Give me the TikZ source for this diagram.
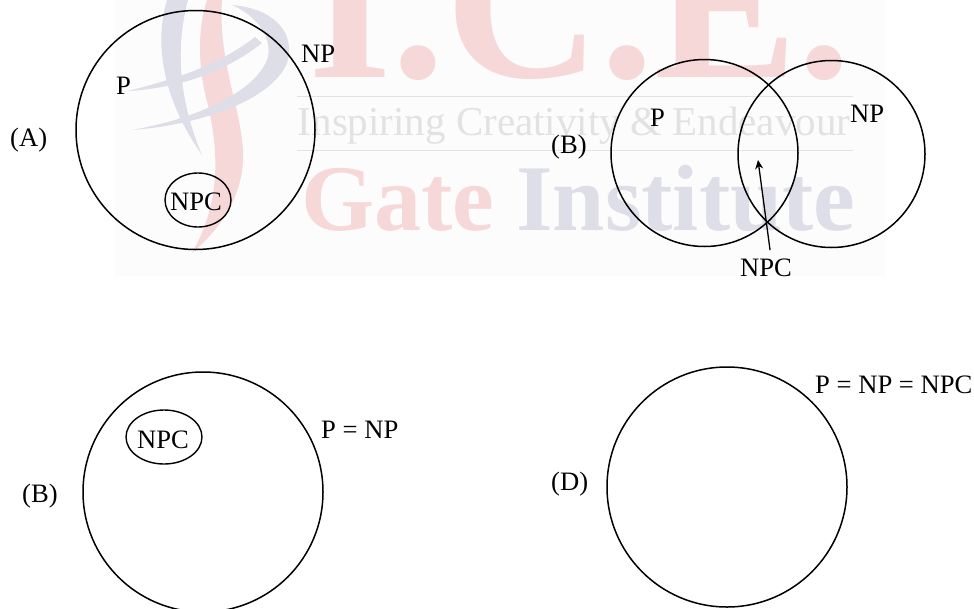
\documentclass[tikz,border=0pt]{standalone}
\usepackage{fontspec}
\setmainfont{Liberation Serif}
\usetikzlibrary{arrows.meta,shapes.geometric}
\definecolor{wred}{RGB}{247,216,216}
\definecolor{wblue}{RGB}{221,222,232}
\definecolor{wgrey}{RGB}{226,226,226}
\definecolor{wback}{RGB}{252,252,252}
\tikzset{
  ring/.style={draw=black,line width=1.5pt,circle,minimum size=#1,inner sep=0pt},
  oval/.style={draw=black,line width=1.4pt,ellipse,inner sep=0pt},
  lab/.style={font=\fontsize{26.6}{26.6}\selectfont,inner sep=0pt,text=black,anchor=base west},
  wm/.style={inner sep=0pt,anchor=base},
}
\begin{document}
\begin{tikzpicture}[x=1pt,y=-1pt]
\useasboundingbox (0,0) rectangle (974,608);
\fill[white] (0,0) rectangle (974,608);
\fill[wback] (115,0) rectangle (885,276);
% watermark
\begin{scope}
\clip (115,0) rectangle (885,276);
\node[wm,text=wred,font=\bfseries\fontsize{215}{215}\selectfont] (wice) at (580,77) {I.C.E.};
\node[wm,text=wgrey,font=\fontsize{41}{41}\selectfont] (wins) at (574,135) {Inspiring Creativity \& Endeavour};
\node[wm,text=wred,font=\bfseries\fontsize{94}{94}\selectfont] (wgate) at (398,230) {Gate};
\node[wm,text=wblue,font=\bfseries\fontsize{94}{94}\selectfont] (winst) at (686,230) {Institute};
\draw[wgrey,line width=1pt] (297,96) -- (853,96) (297,150) -- (853,150);
\fill[wred] (207,0) .. controls (197,30) and (198,70) .. (208,105) .. controls (218,150) and (222,200) .. (192,253) .. controls (225,225) and (245,190) .. (243,150) .. controls (240,105) and (218,60) .. (222,0) -- cycle;
\fill[wblue] (167,0) .. controls (155,40) and (160,95) .. (202,155) .. controls (185,115) and (172,60) .. (188,0) -- cycle;
\fill[wblue] (232,5) .. controls (270,8) and (297,30) .. (287,63) .. controls (272,100) and (200,125) .. (132,130) .. controls (200,118) and (258,90) .. (268,57) .. controls (272,35) and (255,15) .. (232,5) -- cycle;
\fill[wblue] (128,91) .. controls (170,80) and (215,68) .. (255,37) -- (262,43) .. controls (225,72) and (180,88) .. (128,91) -- cycle;
\end{scope}
% (A)
\node[ring=239pt] (ca) at (195.5,130) {};
\node[oval,minimum width=66pt,minimum height=54pt] (npca) at (198,200) {};
\node[lab] (tnpca) at (170,210) {NPC};
\node[lab] (tpa) at (116,94) {P};
\node[lab] (tnpa) at (301,62) {NP};
\node[lab] (ta) at (10,146) {(A)};
% (B) upper
\node[ring=187pt] (cb1) at (704.5,153) {};
\node[ring=187pt] (cb2) at (831.5,154) {};
\node[lab] (tpb) at (650,126) {P};
\node[lab] (tnpb) at (850,122) {NP};
\node[lab] (tb) at (551,153) {(B)};
\node[lab] (tnpcb) at (740,276) {NPC};
\coordinate (arrowtip) at (758,160);
\coordinate (arrowstart) at ([xshift=4pt,yshift=8pt]tnpcb.north);
\draw[black,line width=1.3pt,-{Stealth[length=9pt,width=8pt]}] (arrowstart) -- (arrowtip);
% (B) lower
\node[ring=240pt] (cc) at (203,492) {};
\node[oval,minimum width=76pt,minimum height=54pt] (npcc) at (164,437) {};
\node[lab] (tnpcc) at (137,448) {NPC};
\node[lab] (tpc) at (321,438) {P = NP};
\node[lab] (tc) at (22,502) {(B)};
% (D)
\node[ring=240pt] (cd) at (727,487) {};
\node[lab] (tpd) at (815,393) {P = NP = NPC};
\node[lab] (td) at (551,490) {(D)};
\end{tikzpicture}
\end{document}
